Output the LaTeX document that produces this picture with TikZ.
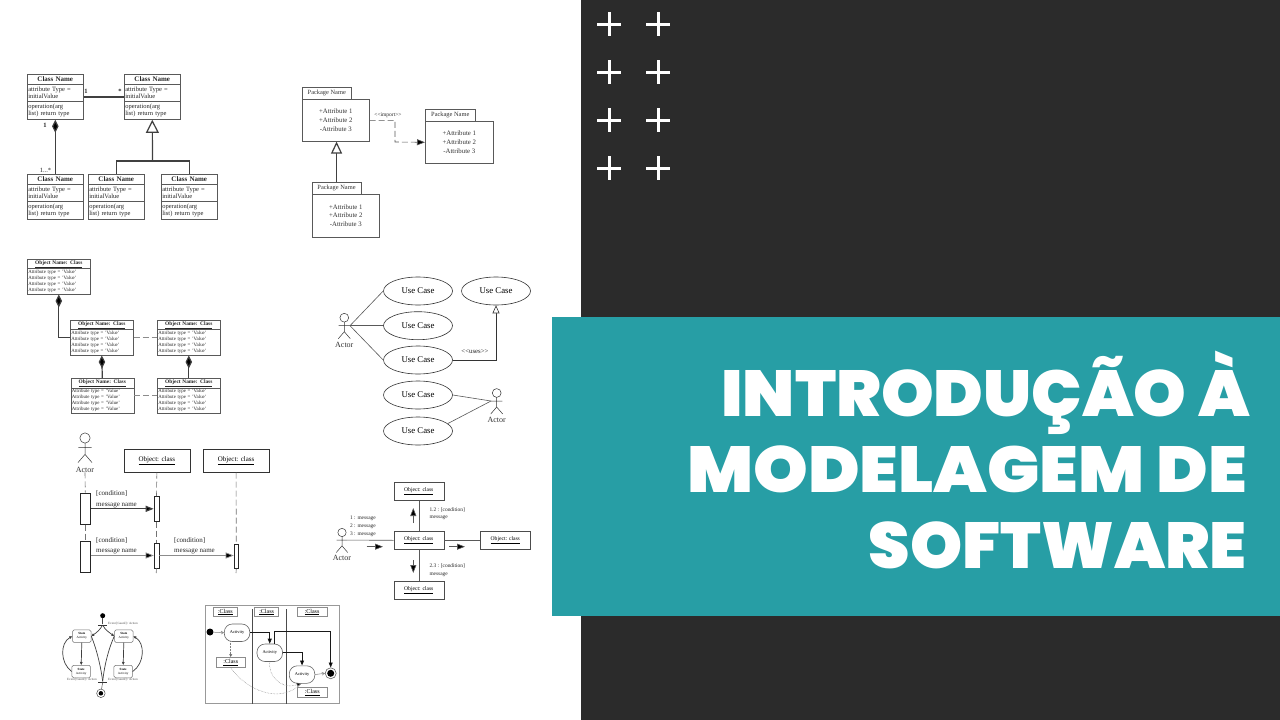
\documentclass[tikz,border=0pt]{standalone}
\usepackage{fontspec}
\setmainfont{Liberation Serif}
\newfontfamily\headfont{Poppins Black}
\usetikzlibrary{arrows.meta,shapes.geometric,shapes.multipart}

\definecolor{tealband}{HTML}{279EA5}
\definecolor{darkpanel}{HTML}{2B2B2B}

\tikzset{
	inkline/.style = {draw = black!65, line width = 0.6pt},
	headline/.style = {anchor = base east, text = white, inner sep = 0pt, font = \headfont\fontsize{65}{76}\selectfont},
	plusline/.style = {draw = white, line width = 3pt},
	classbox/.style = {inkline, anchor = north west, rectangle split, rectangle split parts = 3, text width = 54pt, inner xsep = 1pt, inner ysep = 2.2pt, text = black!85, font = \fontsize{6.5}{7.4}\selectfont\raggedright},
	objbox/.style = {inkline, anchor = north west, rectangle split, rectangle split parts = 2, text width = 61pt, inner xsep = 1pt, inner ysep = 1pt, text = black!85, font = \fontsize{4.9}{6.1}\selectfont\raggedright},
	pkgtab/.style = {inkline, anchor = north west, inner sep = 0pt, minimum height = 12pt, text = black!80, font = \fontsize{6.4}{7}\selectfont},
	pkgbody/.style = {inkline, anchor = north west, inner sep = 0pt, align = center, text = black!80, font = \fontsize{6.8}{8.7}\selectfont},
	usecase/.style = {ellipse, draw = black!80, line width = 0.6pt, inner sep = 0pt, minimum width = 69pt, minimum height = 28pt, font = \fontsize{8.8}{9}\selectfont},
	actorname/.style = {inner sep = 0pt, text = black!80, font = \fontsize{8}{9}\selectfont},
	lbl/.style = {inner sep = 0pt, text = black!85, font = \fontsize{6.8}{8}\selectfont},
	seqobj/.style = {draw = black!80, line width = 0.7pt, anchor = north west, inner sep = 0pt, font = \fontsize{7}{8}\selectfont},
	colobj/.style = {draw = black!70, line width = 0.6pt, anchor = north west, inner sep = 0pt, minimum width = 50pt, minimum height = 18pt, font = \fontsize{5.6}{7}\selectfont},
	actbar/.style = {draw = black!85, fill = white, line width = 0.6pt, anchor = north west, inner sep = 0pt},
	stbox/.style = {draw = black!55, rounded corners = 1.5pt, line width = 0.5pt, anchor = north west, inner sep = 0pt, align = center, minimum width = 18.5pt, minimum height = 12.5pt, font = \fontsize{3.2}{4}\selectfont},
	stlabel/.style = {inner sep = 0pt, text = black!70, font = \fontsize{3.2}{4}\selectfont},
	swimobj/.style = {draw = black!45, line width = 0.6pt, anchor = north west, inner sep = 0pt, font = \fontsize{6}{7}\selectfont},
	activity/.style = {draw = black!60, rounded corners = 8pt, line width = 0.6pt, anchor = north west, inner sep = 0pt, minimum width = 25.5pt, minimum height = 17.5pt, font = \fontsize{4.4}{5}\selectfont},
	heavylink/.style = {draw = black!75, line width = 1.2pt},
	filltip/.style = {-{Triangle[fill = black, length = 8pt, width = 6pt]}},
	opentip/.style = {-{Triangle[fill = white, length = 13pt, width = 13pt]}},
	diamtip/.style = {-{Diamond[fill = black, length = 13pt, width = 6.5pt]}},
	longdash/.style = {dash pattern = on 6pt off 3pt}
}

\newcommand{\plusmark}[2]{\draw[plusline] (#1-12,#2) -- (#1+12,#2) (#1,#2-12) -- (#1,#2+12);}
\newcommand{\cellhead}[1]{\makebox[\hsize]{#1}}
\newcommand{\clshead}{\cellhead{\fontsize{7}{8}\selectfont\textbf{Class Name}}}
\newcommand{\attrpart}{attribute Type =\\initialValue}
\newcommand{\operpart}{operation(arg\\list) return type}
\newcommand{\objhead}{\cellhead{\fontsize{5.4}{6}\selectfont\underline{\textbf{Object Name: Class}}}}
\newcommand{\objattr}{Attribute type = 'Value'\\Attribute type = 'Value'\\Attribute type = 'Value'\\Attribute type = 'Value'}
\newcommand{\pkgattr}{+Attribute 1\\+Attribute 2\\-Attribute 3}
\newcommand{\stickman}[4]{
	\begin{scope}[shift = {(#2,#3)}, scale = #4]
		\draw[draw = black!80, line width = 0.5pt] (0,0) circle (4.4)
		(0,4.4) -- (0,14) (-5.7,8) -- (5.7,8)
		(-6,21) -- (0,14) -- (6,21);
		\coordinate (#1hand) at (5.7,8);
		\coordinate (#1lhand) at (-5.7,8);
		\node[actorname] (#1) at (0,27) {Actor};
	\end{scope}
}

\begin{document}
\begin{tikzpicture}[x = 1pt, y = -1pt]
	\useasboundingbox (0,0) rectangle (1280,720);
	\fill[white] (0,0) rectangle (1280,720);
	\fill[darkpanel] (581,0) rectangle (1280,720);
	\fill[tealband] (552,317) rectangle (1280,616);

	\plusmark{609}{24} \plusmark{658}{24}
	\plusmark{609}{72} \plusmark{658}{72}
	\plusmark{609}{120} \plusmark{658}{120}
	\plusmark{609}{168} \plusmark{658}{168}

	\node[headline] (titleone) at (1250,416) {\scalebox{1.03}[1]{INTRODUÇÃO À}};
	\node[headline] (titletwo) at (1247,492) {\scalebox{1.07}[1]{MODELAGEM DE}};
	\node[headline] (titlethree) at (1247,568) {\scalebox{1.02}[1]{SOFTWARE}};

	% class diagram
	\node[classbox] (clsa) at (27,74) {\clshead\nodepart{two}\attrpart\nodepart{three}\operpart};
	\node[classbox] (clsb) at (124,74) {\clshead\nodepart{two}\attrpart\nodepart{three}\operpart};
	\node[classbox] (clsc) at (27,174) {\clshead\nodepart{two}\attrpart\nodepart{three}\operpart};
	\node[classbox] (clsd) at (88,174) {\clshead\nodepart{two}\attrpart\nodepart{three}\operpart};
	\node[classbox] (clse) at (161,174) {\clshead\nodepart{two}\attrpart\nodepart{three}\operpart};
	\coordinate (clsfork) at (152.5,161);
	\draw[heavylink] (clsa.east) -- (clsb.west);
	\draw[heavylink, diamtip] (clsc.north) -- (clsa.south);
	\draw[heavylink] (clsd.north) |- (clsfork);
	\draw[heavylink] (clse.north) |- (clsfork);
	\draw[heavylink, opentip] (clsfork) -- (clsb.south);
	\node[lbl, font = \fontsize{6.5}{7}\selectfont\bfseries] (multa) at (86,91) {1};
	\node[lbl, font = \fontsize{6.5}{7}\selectfont\bfseries] (multb) at (120,91) {*};
	\node[lbl, font = \fontsize{6.5}{7}\selectfont\bfseries] (multc) at (45,125) {1};
	\node[lbl, font = \fontsize{6.5}{7}\selectfont] (multd) at (45.5,170) {1...*};

	% package diagram
	\node[pkgtab, minimum width = 49pt] (pkatab) at (302,87) {Package Name};
	\node[pkgbody, minimum width = 67pt, minimum height = 42pt] (pka) at (302,99) {\pkgattr};
	\node[pkgtab, minimum width = 50pt] (pkbtab) at (425,109) {Package Name};
	\node[pkgbody, minimum width = 68pt, minimum height = 42pt] (pkb) at (425,121) {\pkgattr};
	\node[pkgtab, minimum width = 48.5pt] (pkctab) at (312,182) {Package Name};
	\node[pkgbody, minimum width = 67pt, minimum height = 42.5pt] (pkc) at (312,194) {\pkgattr};
	\coordinate (pkbend) at (395,142);
	\draw[inkline, longdash, filltip] (pka.east) -| (pkbend) -- (pkb.west);
	\draw[heavylink, -{Triangle[fill = white, length = 12pt, width = 11pt]}] (pkctab.north) -- (pkctab.north |- pka.south);
	\node[lbl, font = \fontsize{5.5}{6}\selectfont] (pkimport) at (388,115) {<{}<import>{}>};

	% object diagram
	\node[objbox] (obja) at (27,259) {\objhead\nodepart{two}\objattr};
	\node[objbox] (objb) at (70,320) {\objhead\nodepart{two}\objattr};
	\node[objbox] (objc) at (157,320) {\objhead\nodepart{two}\objattr};
	\node[objbox] (objd) at (70.5,378) {\objhead\nodepart{two}\objattr};
	\node[objbox] (obje) at (157,378) {\objhead\nodepart{two}\objattr};
	\draw[heavylink, diamtip] (objb.west) -| (obja.south);
	\draw[heavylink, diamtip] (objd.north) -- (objb.south);
	\draw[heavylink, diamtip] (obje.north) -- (objc.south);
	\draw[draw = black!45, line width = 0.6pt, longdash] (objb.east) -- (objc.west);
	\draw[draw = black!45, line width = 0.6pt, longdash] (objd.east) -- (obje.west);

	% use case diagram
	\node[usecase] (uca) at (418,291) {Use Case};
	\node[usecase] (ucb) at (418,325.7) {Use Case};
	\node[usecase] (ucc) at (418,360) {Use Case};
	\node[usecase] (ucd) at (418,395) {Use Case};
	\node[usecase] (uce) at (418,431) {Use Case};
	\node[usecase] (ucf) at (496,291) {Use Case};
	\stickman{ucactora}{344.3}{317.7}{1}
	\stickman{ucactorb}{496.7}{393}{1}
	\draw[inkline] (ucactorahand) -- (uca.west);
	\draw[inkline] (ucactorahand) -- (ucb.west);
	\draw[inkline] (ucactorahand) -- (ucc.west);
	\draw[inkline] (ucactorblhand) -- (ucd.east);
	\draw[inkline] (ucactorblhand) -- (uce.14);
	\draw[draw = black!80, line width = 0.6pt, -{Triangle[fill = white, length = 8pt, width = 7pt]}] (ucc.east) -| (ucf.south);
	\node[lbl] (ucuses) at (475,352) {<{}<uses>{}>};

	% sequence diagram
	\stickman{seqactor}{85}{438}{1.17}
	\node[seqobj, minimum width = 66pt, minimum height = 23.5pt] (seqa) at (123.5,448.5) {\underline{Object: class}};
	\node[seqobj, minimum width = 66.5pt, minimum height = 23.5pt] (seqb) at (202.5,448.5) {\underline{Object: class}};
	\node[actbar, minimum width = 10pt, minimum height = 31.5pt] (bara) at (80,492.5) {};
	\node[actbar, minimum width = 10pt, minimum height = 31pt] (barb) at (80,540.5) {};
	\node[actbar, minimum width = 5pt, minimum height = 25pt] (barc) at (153.7,496) {};
	\node[actbar, minimum width = 5pt, minimum height = 25pt] (bard) at (153.7,542.7) {};
	\node[actbar, minimum width = 4.6pt, minimum height = 24pt] (bare) at (233.7,544) {};
	\coordinate (seqaend) at (156.2,573);
	\coordinate (seqbend) at (236,573);
	\draw[draw = black!55, line width = 0.6pt, longdash] (seqactor.south) -- (bara.north);
	\draw[draw = black!55, line width = 0.6pt, longdash] (bara.south) -- (barb.north);
	\draw[draw = black!55, line width = 0.6pt, longdash] (seqa.south) -- (barc.north);
	\draw[draw = black!55, line width = 0.6pt, longdash] (barc.south) -- (bard.north);
	\draw[draw = black!55, line width = 0.6pt, longdash] (bard.south) -- (seqaend);
	\draw[draw = black!55, line width = 0.6pt, longdash] (seqb.south) -- (bare.north);
	\draw[draw = black!55, line width = 0.6pt, longdash] (bare.south) -- (seqbend);
	\draw[heavylink, filltip] (bara.east |- barc.center) -- (barc.west);
	\draw[draw = black!45, line width = 0.7pt, filltip] (barb.east |- bard.center) -- (bard.west);
	\draw[draw = black!45, line width = 0.7pt, filltip] (bard.east) -- (bare.west |- bard.center);
	\node[lbl, anchor = west, align = left, font = \fontsize{7}{10.5}\selectfont] (seqmsga) at (96,499.5) {[condition]\\message name};
	\node[lbl, anchor = west, align = left, font = \fontsize{7}{10.5}\selectfont] (seqmsgb) at (96,546) {[condition]\\message name};
	\node[lbl, anchor = west, align = left, font = \fontsize{7}{10.5}\selectfont] (seqmsgc) at (174,546) {[condition]\\message name};

	% collaboration diagram
	\stickman{colactor}{342}{532.5}{0.95}
	\node[colobj] (colmid) at (393.5,531) {\underline{Object: class}};
	\node[colobj] (coltop) at (393.5,482) {\underline{Object: class}};
	\node[colobj] (colbot) at (393.5,581) {\underline{Object: class}};
	\node[colobj] (colright) at (480,531) {\underline{Object: class}};
	\draw[inkline] (colactorhand) -- (colmid.west);
	\draw[inkline] (colmid.east) -- (colright.west);
	\draw[inkline] (colmid.north) -- (coltop.south);
	\draw[inkline] (colmid.south) -- (colbot.north);
	\coordinate (msgaa) at (366.7,546.7);
	\coordinate (msgab) at (383,546.7);
	\coordinate (msgba) at (449,546.7);
	\coordinate (msgbb) at (465,546.7);
	\coordinate (msgca) at (413.3,523);
	\coordinate (msgcb) at (413.3,508);
	\coordinate (msgda) at (413.3,560);
	\coordinate (msgdb) at (413.3,573);
	\draw[inkline, filltip] (msgaa) -- (msgab);
	\draw[inkline, filltip] (msgba) -- (msgbb);
	\draw[inkline, filltip] (msgca) -- (msgcb);
	\draw[inkline, filltip] (msgda) -- (msgdb);
	\node[lbl, align = left, font = \fontsize{5.4}{8}\selectfont] (colmsga) at (363,526) {1 : message\\2 : message\\3 : message};
	\node[lbl, anchor = west, align = left, font = \fontsize{5.4}{7.5}\selectfont] (colmsgb) at (429.3,513.5) {1.2 : [condition]\\message};
	\node[lbl, anchor = west, align = left, font = \fontsize{5.4}{7.5}\selectfont] (colmsgc) at (429.3,570) {2.3 : [condition]\\message};

	% state diagram
	\node[circle, fill = black, inner sep = 0pt, minimum size = 5pt] (ststart) at (102.7,615.7) {};
	\node[fill = black!80, inner sep = 0pt, minimum width = 9pt, minimum height = 1pt] (stforka) at (102.7,625) {};
	\node[fill = black!80, inner sep = 0pt, minimum width = 9pt, minimum height = 1pt] (stforkb) at (102.7,682) {};
	\node[circle, draw = black!70, line width = 0.5pt, inner sep = 0pt, minimum size = 8.5pt] (stend) at (100.9,693.3) {};
	\node[circle, fill = black, inner sep = 0pt, minimum size = 4.5pt] (stdot) at (stend.center) {};
	\node[stbox] (sta) at (72.3,629.7) {\textbf{State}\\Activity};
	\node[stbox] (stb) at (114.3,629.7) {\textbf{State}\\Activity};
	\node[stbox] (stc) at (71.7,665) {\textbf{State}\\Activity};
	\node[stbox] (std) at (113.7,665) {\textbf{State}\\Activity};
	\tikzset{stlink/.style = {draw = black!75, line width = 0.7pt, -{Triangle[fill = black, length = 3pt, width = 2.5pt]}}}
	\draw[draw = black!70, line width = 0.5pt] (ststart) -- (stforka);
	\draw[draw = black!70, line width = 0.5pt] (stforkb) -- (stend);
	\draw[stlink] (sta.south) -- (stc.north);
	\draw[stlink] (stb.south) -- (std.north);
	\draw[stlink] (stc.west) .. controls (60,663) and (60,643) .. (sta.west);
	\draw[stlink] (std.east) .. controls (145,663) and (145,643) .. (stb.east);
	\draw[stlink] (stforka.center) .. controls (100,630) and (96,633) .. (sta.east);
	\draw[stlink] (stforka.center) .. controls (105,630) and (110,633) .. (stb.west);
	\draw[draw = black!75, line width = 0.7pt] (sta.east) .. controls (97,650) and (101,668) .. (stforkb.north);
	\draw[draw = black!75, line width = 0.7pt] (stb.west) .. controls (108,650) and (104,668) .. (stforkb.north);
	\node[stlabel] (stlabela) at (123,624) {Event [Guard] / Action};
	\node[stlabel] (stlabelb) at (82,680) {Event [Guard] / Action};
	\node[stlabel] (stlabelc) at (123,680) {Event [Guard] / Action};

	% activity diagram
	\node[draw = black!40, line width = 1pt, anchor = north west, inner sep = 0pt, minimum width = 134pt, minimum height = 98.5pt] (swimframe) at (204.7,604.7) {};
	\coordinate (lanea) at (252.3,609);
	\coordinate (laneb) at (286.7,609);
	\draw[draw = black!70, line width = 0.8pt] (lanea) -- (lanea |- swimframe.south);
	\draw[draw = black!70, line width = 0.8pt] (laneb) -- (laneb |- swimframe.south);
	\node[swimobj, minimum width = 23.5pt, minimum height = 9pt] (swima) at (213.3,607.3) {\underline{:Class}};
	\node[swimobj, minimum width = 24pt, minimum height = 9pt] (swimb) at (254.3,607.3) {\underline{:Class}};
	\node[swimobj, minimum width = 30pt, minimum height = 9pt] (swimc) at (296.7,607.3) {\underline{:Class}};
	\node[swimobj, minimum width = 29.5pt, minimum height = 10pt] (swimd) at (215.7,657) {\underline{:Class}};
	\node[swimobj, minimum width = 30.5pt, minimum height = 10pt] (swime) at (296.7,687.3) {\underline{:Class}};
	\node[circle, fill = black, inner sep = 0pt, minimum size = 7pt] (actstart) at (210,632) {};
	\node[activity] (acta) at (224,623.7) {Activity};
	\node[activity] (actb) at (256.7,643.7) {Activity};
	\node[activity] (actc) at (289,665.5) {Activity};
	\node[circle, draw = black!60, line width = 0.6pt, inner sep = 0pt, minimum size = 11pt] (actend) at (330.7,673.3) {};
	\node[circle, fill = black, inner sep = 0pt, minimum size = 7pt] (actenddot) at (actend.center) {};
	\tikzset{
		swimlink/.style = {draw = black!90, line width = 0.7pt, -{Triangle[fill = black, length = 5pt, width = 4pt]}},
		flowlink/.style = {draw = black!50, line width = 0.5pt, -{Straight Barb[length = 2.5pt, width = 3pt]}},
		dotlink/.style = {draw = black!50, line width = 0.5pt, densely dotted}
	}
	\coordinate (actbout) at (274.7,644);
	\coordinate (actbtop) at (274.7,631.3);
	\coordinate (actcin) at (301.7,683.3);
	\coordinate (actdrop) at (230.7,641.2);
	\coordinate (actdin) at (230.7,657);
	\draw[flowlink] (actstart) -- (acta.west);
	\draw[flowlink] (actc.east) -- (actend.west);
	\draw[swimlink] (acta.east) -| (actb.north);
	\draw[swimlink] (actb.east) -| (actc.north);
	\draw[swimlink] (actbout) -- (actbtop) -| (actend.north);
	\draw[dotlink, -{Triangle[fill = black, length = 3pt, width = 3pt]}] (actdrop) -- (actdin);
	\draw[dotlink] (swimd.south) .. controls (246,690) and (280,705) .. (actcin);
	\draw[dotlink, -{Triangle[fill = black, length = 5pt, width = 4pt]}] (actb.south) .. controls (268,675) and (280,690) .. (actcin);
\end{tikzpicture}
\end{document}
